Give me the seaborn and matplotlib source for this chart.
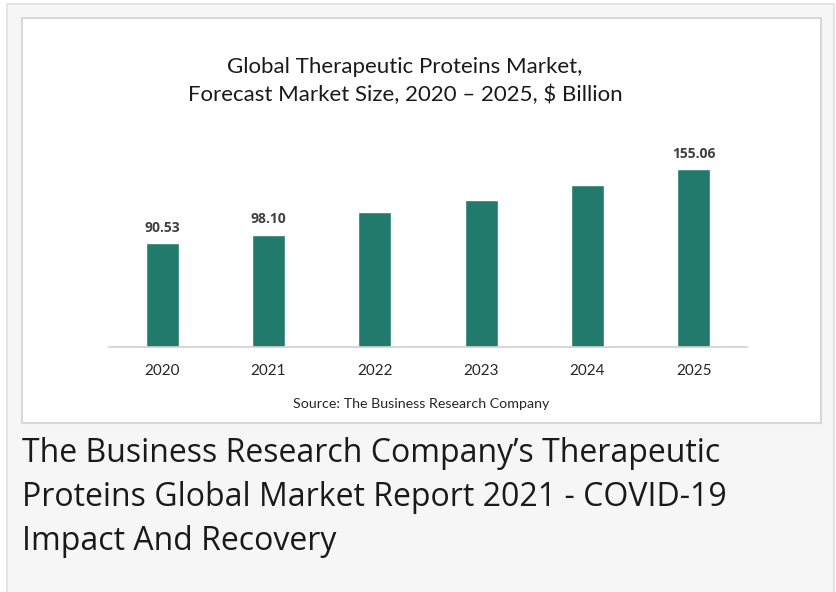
import matplotlib
matplotlib.use("Agg")
import matplotlib.pyplot as plt
from matplotlib.patches import Rectangle
import seaborn as sns
import pandas as pd

years = ["2020", "2021", "2022", "2023", "2024", "2025"]
market_size = [90.53, 98.10, 118.0, 128.8, 141.8, 155.06]
labels = ["90.53", "98.10", "", "", "", "155.06"]

title_text = "Global Therapeutic Proteins Market,\nForecast Market Size, 2020 \u2013 2025, $ Billion"
source_text = "Source: The Business Research Company"
caption_lines = [
    "The Business Research Company\u2019s Therapeutic",
    "Proteins Global Market Report 2021 - COVID-19",
    "Impact And Recovery",
]

sns.set_theme(style="white")
plt.rcParams["font.family"] = ["Open Sans", "DejaVu Sans"]

W, H = 836, 592
fig = plt.figure(figsize=(W / 100, H / 100), dpi=100)
fig.patch.set_facecolor("white")

def fx(x):
    return x / W

def fy(y):
    return 1 - y / H

# outer panel
fig.patches.append(Rectangle((fx(7), fy(600)), fx(834 - 7), (600 - 4) / H,
                             transform=fig.transFigure, facecolor="#f6f6f6",
                             edgecolor="#e4e4e4", linewidth=1.5, zorder=0))
# inner white chart box
fig.patches.append(Rectangle((fx(22), fy(423)), fx(821 - 22), (423 - 18) / H,
                             transform=fig.transFigure, facecolor="white",
                             edgecolor="#d8d8d8", linewidth=1.5, zorder=0.5))

df = pd.DataFrame({"year": years, "size": market_size})

ax_left, ax_right, ax_bottom, ax_top = 109, 747, 347, 140
ax = fig.add_axes([fx(ax_left), fy(ax_bottom), fx(ax_right - ax_left), (ax_bottom - ax_top) / H])
ax.set_zorder(2)
ax.set_facecolor("none")
sns.barplot(data=df, x="year", y="size", color="#217a6b", width=0.31,
            saturation=1, ax=ax)
ax.set_ylim(0, (ax_bottom - ax_top) / 1.145)
ax.set_xlim(-0.5, 5.5)
for s in ["top", "right", "left"]:
    ax.spines[s].set_visible(False)
ax.spines["bottom"].set_color("#d0d0d0")
ax.spines["bottom"].set_linewidth(1.2)
ax.set_yticks([])
ax.set_xlabel("")
ax.set_ylabel("")
ax.tick_params(axis="x", length=0, pad=12, labelsize=11, labelcolor="#262626")
for lab in ax.get_xticklabels():
    lab.set_fontfamily(["Lato", "DejaVu Sans"])

ax.bar_label(ax.containers[0], labels=labels, padding=6, fontsize=10,
             fontweight="bold", color="#404040")

fig.text(fx(405), fy(81), title_text, ha="center", va="center", fontsize=16,
         color="#1a1a1a", linespacing=1.45, family=["Lato", "DejaVu Sans"])
fig.text(fx(421), fy(404), source_text, ha="center", va="center", fontsize=10.3,
         color="#262626", family=["Lato", "DejaVu Sans"])

for i, line in enumerate(caption_lines):
    fig.text(fx(22), fy(453 + i * 44.5), line, ha="left", va="center",
             fontsize=23, color="#1a1a1a", family=["Open Sans", "DejaVu Sans"])

fig.savefig("out.png", dpi=100, facecolor=fig.get_facecolor())
